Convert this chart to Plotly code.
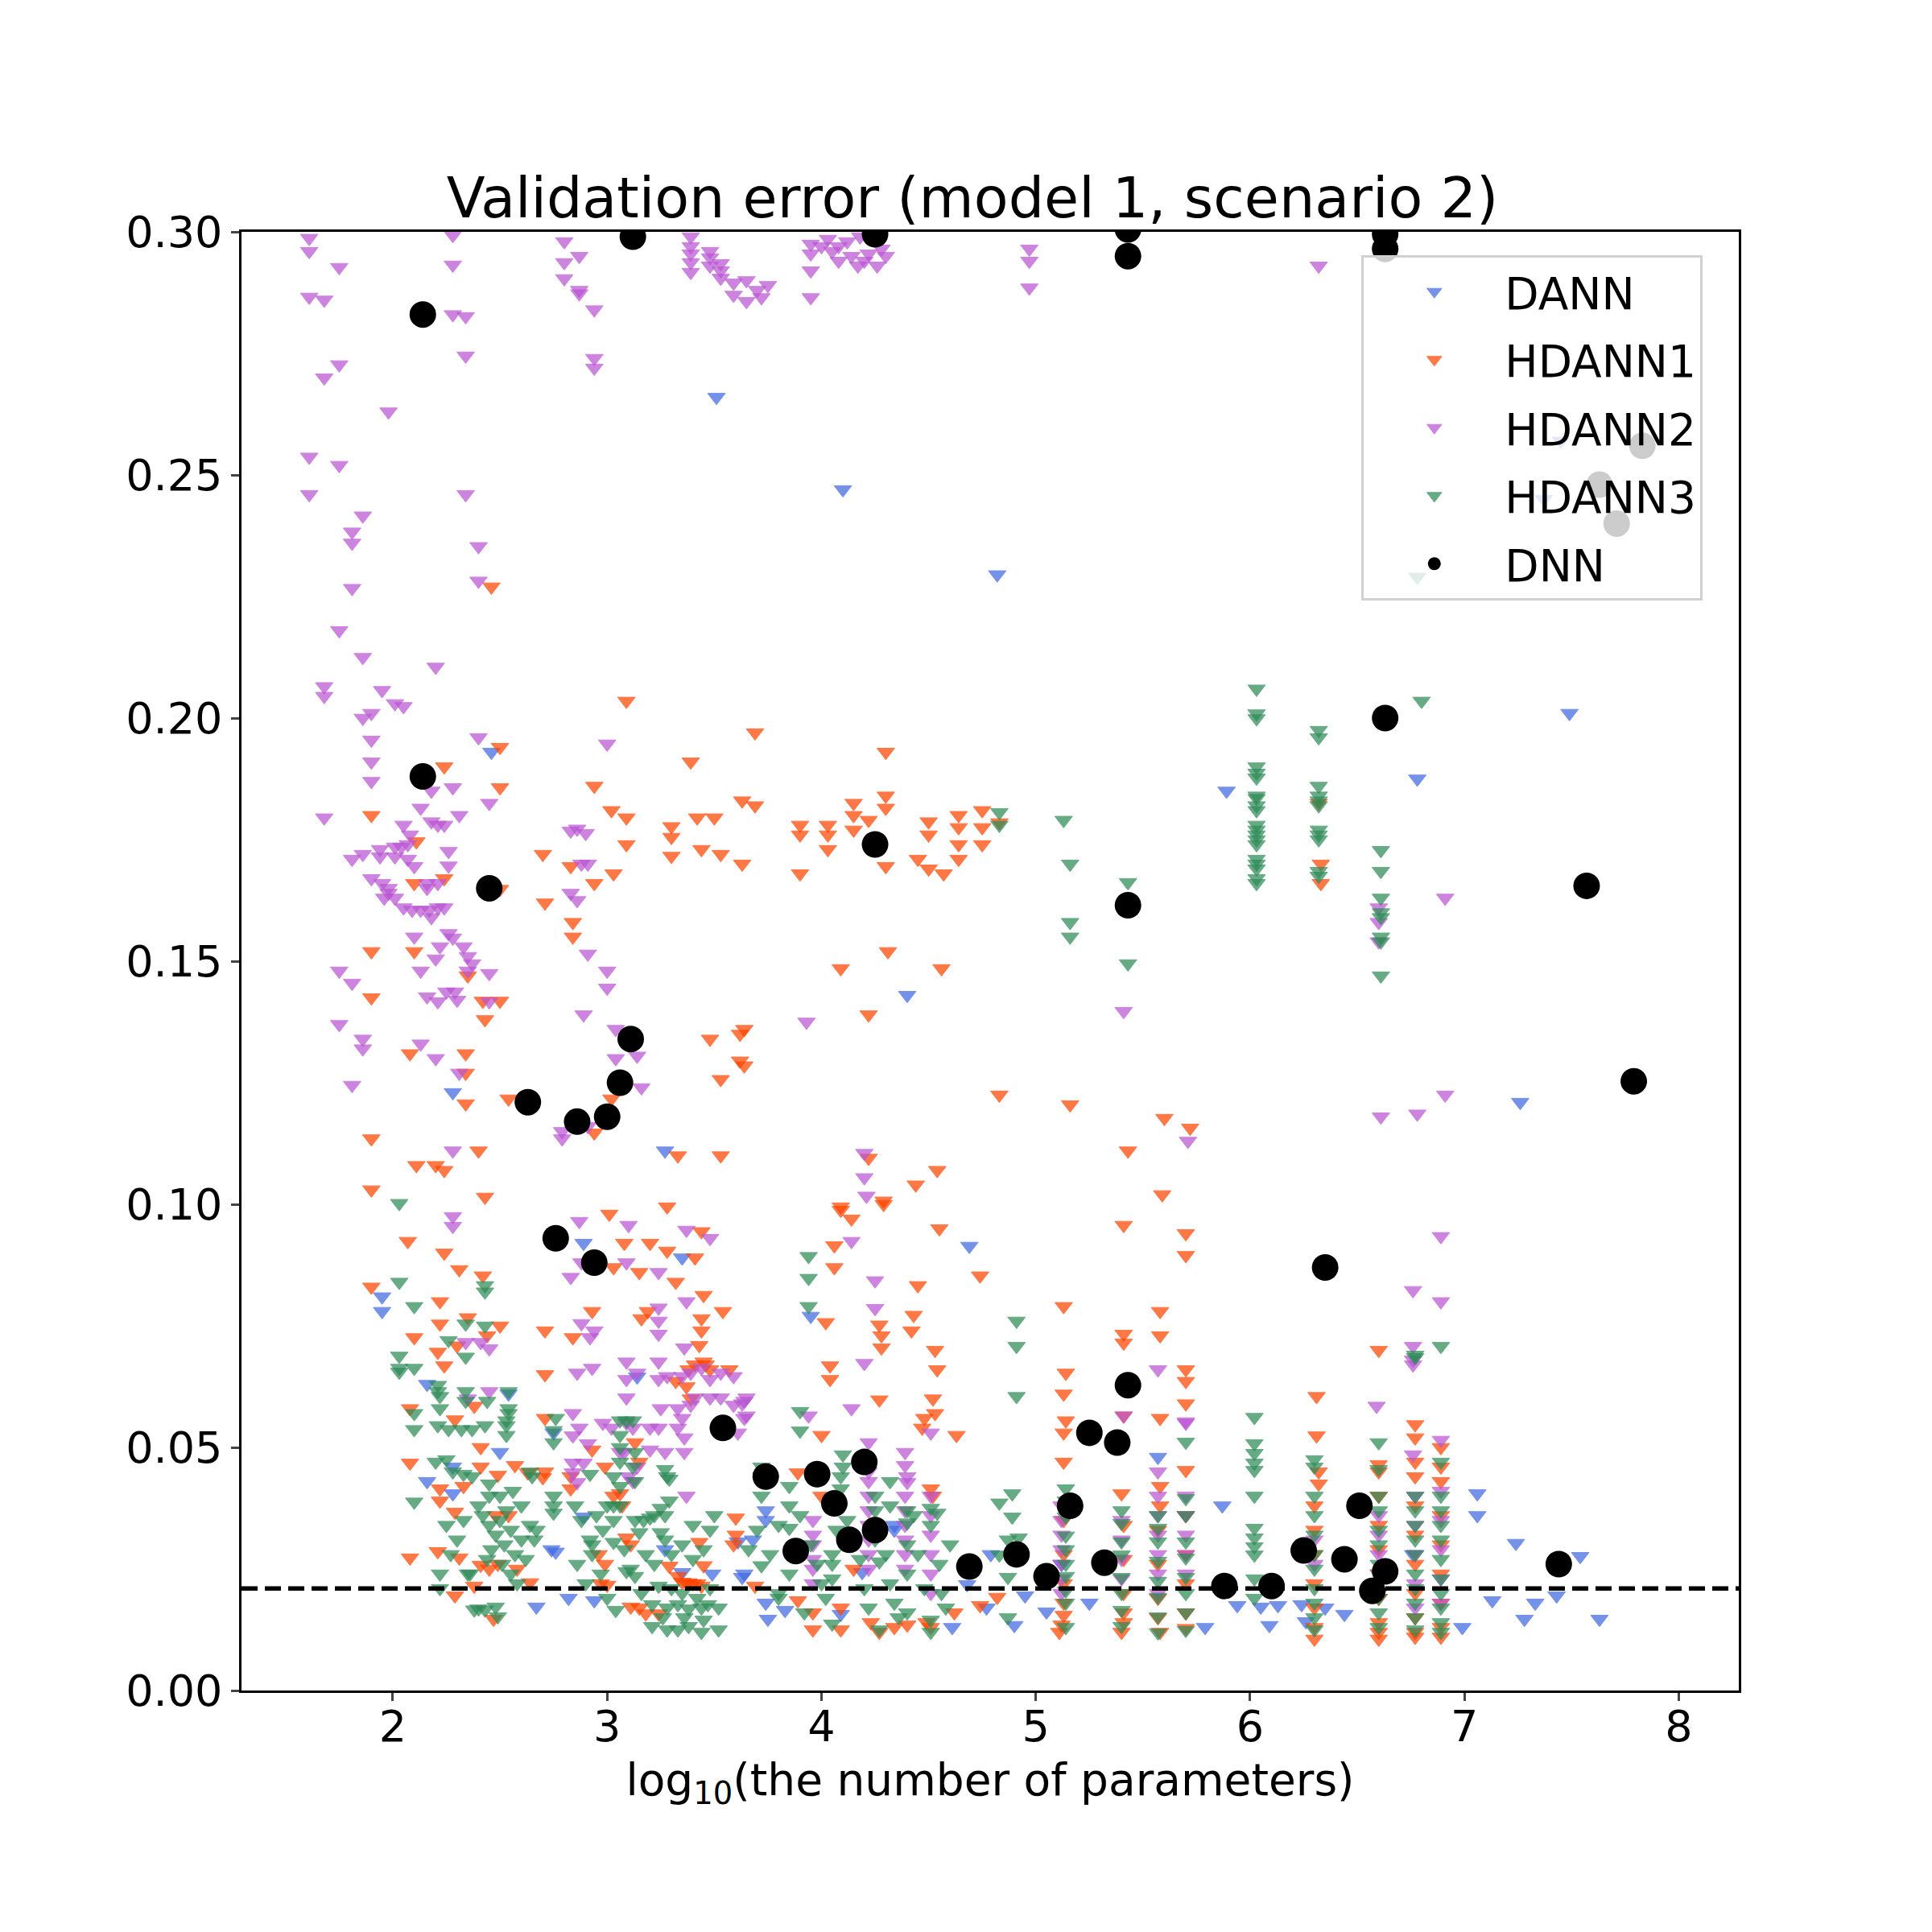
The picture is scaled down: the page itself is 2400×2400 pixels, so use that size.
import plotly.graph_objects as go

# values
# x = log10(number of parameters), y = validation error

dnn_pts = [(2.14, 0.283), (2.14, 0.188), (2.45, 0.165), (2.63, 0.121), (2.86, 0.117), (3.00, 0.118),
           (3.06, 0.125), (3.11, 0.134), (3.12, 0.299), (2.76, 0.093), (2.94, 0.088), (3.54, 0.054),
           (3.74, 0.044), (3.98, 0.0445), (3.88, 0.0287), (4.06, 0.0385), (4.13, 0.031), (4.20, 0.047),
           (4.25, 0.033), (4.25, 0.174), (4.25, 0.2995), (4.69, 0.0255), (4.91, 0.028), (5.05, 0.0235),
           (5.16, 0.038), (5.25, 0.053), (5.32, 0.0263), (5.38, 0.051), (5.43, 0.0628), (5.43, 0.1615),
           (5.43, 0.295), (5.43, 0.3005), (5.88, 0.0215), (6.10, 0.0215), (6.25, 0.0288), (6.35, 0.087),
           (6.44, 0.027), (6.51, 0.038), (6.57, 0.0205), (6.63, 0.0245), (6.63, 0.200), (6.63, 0.2965),
           (6.63, 0.2995), (7.44, 0.026), (7.57, 0.1655), (7.83, 0.256), (7.63, 0.248), (7.71, 0.240),
           (7.79, 0.1253)]

dann_pts = [(3.51, 0.266), (4.10, 0.247), (4.82, 0.2295), (7.49, 0.201), (5.89, 0.185), (6.78, 0.1875),
            (4.40, 0.143), (2.46, 0.193), (2.28, 0.123), (7.26, 0.121), (3.27, 0.111), (4.69, 0.0914),
            (1.95, 0.081), (1.95, 0.078), (3.95, 0.077), (2.89, 0.092), (7.45, 0.257), (7.37, 0.245),
            (7.06, 0.0405), (7.06, 0.036), (7.24, 0.0303), (7.54, 0.0276), (7.43, 0.0195), (7.33, 0.018),
            (7.28, 0.0147), (7.63, 0.0147), (7.13, 0.0185), (6.99, 0.013), (6.44, 0.0157), (5.94, 0.0175),
            (6.05, 0.0172), (6.13, 0.0175), (6.09, 0.0134), (6.24, 0.0177), (6.26, 0.0142), (6.35, 0.017),
            (3.74, 0.037), (3.74, 0.035), (3.68, 0.031), (3.64, 0.024), (3.74, 0.018), (3.75, 0.0147),
            (3.83, 0.0165), (4.09, 0.0157), (4.34, 0.034), (4.34, 0.033), (4.19, 0.0243), (4.61, 0.013),
            (4.68, 0.0218), (4.77, 0.017), (4.79, 0.028), (4.90, 0.0134), (4.95, 0.0195), (5.05, 0.0162),
            (5.25, 0.018), (5.57, 0.048), (5.79, 0.013), (5.87, 0.038), (2.16, 0.063), (2.16, 0.043),
            (2.28, 0.046), (2.28, 0.0405), (2.54, 0.061), (2.50, 0.049), (2.75, 0.053), (2.74, 0.029),
            (2.76, 0.0285), (2.67, 0.0172), (2.82, 0.019), (2.94, 0.0185), (2.89, 0.0357), (3.14, 0.0645),
            (3.35, 0.089), (3.27, 0.029), (3.49, 0.024), (3.63, 0.0233), (3.61, 0.0306), (3.35, 0.0243),
            (6.76, 0.028), (5.12, 0.026)]

hdann1_pts = [(2.46, 0.227), (3.09, 0.2035), (3.69, 0.197), (4.30, 0.193), (2.50, 0.194), (2.24, 0.190),
              (2.50, 0.1857), (3.39, 0.191), (2.94, 0.186), (1.90, 0.180), (3.02, 0.181), (3.09, 0.1795),
              (3.30, 0.1777), (3.30, 0.1755), (3.42, 0.1795), (3.50, 0.1795), (3.63, 0.183), (3.09, 0.174),
              (3.30, 0.1716), (3.44, 0.173), (3.53, 0.172), (3.63, 0.170), (2.11, 0.1746), (2.70, 0.172),
              (2.83, 0.1695), (3.03, 0.168), (2.94, 0.166), (2.24, 0.167), (2.10, 0.166), (2.50, 0.1648),
              (2.71, 0.162), (2.84, 0.158), (2.84, 0.155), (1.90, 0.152), (2.10, 0.152), (2.35, 0.147),
              (1.90, 0.1425), (2.42, 0.1418), (2.50, 0.1418), (2.43, 0.138), (2.08, 0.131), (2.34, 0.131),
              (2.34, 0.127), (2.34, 0.1207), (2.54, 0.1217), (3.02, 0.1217), (3.48, 0.134), (3.62, 0.135),
              (3.62, 0.1295), (3.53, 0.1257), (1.90, 0.1135), (2.40, 0.111), (2.11, 0.108), (2.20, 0.108),
              (2.24, 0.107), (1.90, 0.103), (2.43, 0.1015), (3.33, 0.110), (3.53, 0.110), (3.28, 0.0995),
              (3.01, 0.098), (2.94, 0.1147),
              (3.69, 0.182), (4.30, 0.184), (4.30, 0.1815), (4.15, 0.1825), (4.15, 0.180), (3.90, 0.178),
              (3.90, 0.176), (4.03, 0.178), (4.03, 0.176), (4.15, 0.177), (4.22, 0.179), (4.03, 0.173),
              (3.90, 0.168), (4.30, 0.1695), (4.45, 0.171), (4.50, 0.169), (4.57, 0.168), (4.50, 0.1787),
              (4.50, 0.176), (4.64, 0.180), (4.64, 0.1775), (4.64, 0.174), (4.64, 0.171), (4.75, 0.181),
              (4.75, 0.1775), (4.75, 0.174), (4.83, 0.1785), (6.33, 0.170), (6.33, 0.166), (6.32, 0.1825),
              (4.31, 0.152), (4.09, 0.1485), (4.56, 0.1485), (4.22, 0.139), (4.83, 0.1225), (5.16, 0.1205),
              (5.60, 0.1177), (5.72, 0.1157), (5.43, 0.111), (4.22, 0.1095), (4.54, 0.107), (4.44, 0.104),
              (4.29, 0.1007), (4.09, 0.0995), (5.59, 0.102), (3.64, 0.136), (3.64, 0.1285),
              (2.07, 0.0924), (2.24, 0.090), (2.31, 0.0866), (2.42, 0.0853), (1.90, 0.083), (2.22, 0.080),
              (2.10, 0.0726), (2.21, 0.0696), (2.24, 0.0668), (2.22, 0.0754), (2.35, 0.0767), (2.50, 0.075),
              (2.30, 0.0709), (2.44, 0.073), (2.08, 0.058), (2.29, 0.0557), (2.38, 0.0585), (2.08, 0.0468),
              (2.22, 0.0415), (2.22, 0.039), (2.33, 0.042), (2.41, 0.046), (2.41, 0.050), (2.49, 0.0443),
              (2.57, 0.0463), (2.63, 0.0448), (2.70, 0.0438), (2.29, 0.0367), (2.48, 0.036), (2.54, 0.036),
              (2.08, 0.0273), (2.21, 0.0286), (2.31, 0.0273), (2.41, 0.0258), (2.45, 0.025), (2.49, 0.026),
              (2.58, 0.025), (2.64, 0.0222), (2.29, 0.0195), (2.47, 0.0147), (2.38, 0.0215),
              (2.71, 0.074), (2.71, 0.065), (2.71, 0.056), (2.71, 0.045), (2.84, 0.0726), (2.93, 0.078),
              (3.08, 0.092), (3.20, 0.092), (3.28, 0.0904), (3.41, 0.089), (3.44, 0.0944), (3.03, 0.087),
              (3.15, 0.086), (3.32, 0.084), (3.45, 0.0813), (3.54, 0.078), (3.19, 0.078), (3.16, 0.0765),
              (3.44, 0.0765), (3.44, 0.074), (3.43, 0.071), (3.45, 0.0676), (3.46, 0.067), (3.48, 0.066),
              (3.38, 0.066), (3.41, 0.067), (3.37, 0.0625), (3.39, 0.060), (3.57, 0.066),
              (3.29, 0.0256), (3.33, 0.0235), (3.35, 0.0223), (3.37, 0.022), (3.38, 0.0222), (3.40, 0.022),
              (3.42, 0.022), (3.44, 0.0215), (3.11, 0.0172), (3.15, 0.017), (3.18, 0.0158), (3.24, 0.0158),
              (3.45, 0.0257), (2.99, 0.026), (3.00, 0.0217), (2.97, 0.022), (2.96, 0.028), (3.09, 0.0314),
              (3.11, 0.030), (2.83, 0.0415), (2.83, 0.044), (2.93, 0.0495), (2.99, 0.046), (3.03, 0.040),
              (3.06, 0.0405), (3.07, 0.038), (3.13, 0.051), (3.15, 0.047), (3.32, 0.0636), (3.43, 0.0305),
              (3.59, 0.030), (3.60, 0.0355), (3.60, 0.032),
              (4.09, 0.0988), (4.14, 0.097), (4.06, 0.0915), (4.06, 0.087), (4.29, 0.100), (4.55, 0.095),
              (4.74, 0.0853), (4.45, 0.0833), (4.02, 0.0757), (4.27, 0.0752), (4.28, 0.073), (4.28, 0.0705),
              (4.43, 0.0772), (4.42, 0.074), (4.53, 0.070), (4.54, 0.066), (4.04, 0.0668), (4.04, 0.064),
              (4.27, 0.0598), (4.52, 0.060), (4.53, 0.057), (4.48, 0.056), (4.47, 0.054), (4.00, 0.0525),
              (4.63, 0.0525), (5.13, 0.079), (5.41, 0.0957), (5.70, 0.094), (5.70, 0.0895), (5.58, 0.078),
              (5.41, 0.0733), (5.41, 0.0715), (5.58, 0.073), (5.70, 0.066), (5.70, 0.0636), (5.14, 0.0653),
              (5.13, 0.061), (5.14, 0.0555), (5.13, 0.053), (5.58, 0.056), (5.70, 0.059), (5.41, 0.0565),
              (3.89, 0.0448), (4.00, 0.040), (5.40, 0.0405), (5.58, 0.042), (5.58, 0.038), (5.70, 0.0453),
              (3.69, 0.0215), (3.89, 0.0185), (3.96, 0.016), (4.09, 0.017), (4.15, 0.025), (4.62, 0.016),
              (4.82, 0.0192), (4.74, 0.0175), (4.23, 0.014), (4.34, 0.013), (4.49, 0.014), (5.11, 0.012),
              (5.12, 0.0135), (5.40, 0.012), (5.58, 0.012), (5.70, 0.0128), (4.51, 0.0415), (4.52, 0.040),
              (6.60, 0.070), (6.31, 0.0605), (6.31, 0.0524), (6.77, 0.0547), (6.77, 0.052), (6.77, 0.047),
              (6.89, 0.050), (6.89, 0.046), (6.60, 0.0465), (6.60, 0.045), (6.32, 0.045), (6.32, 0.0425),
              (6.30, 0.0106), (6.60, 0.0106), (6.77, 0.011), (6.89, 0.011), (4.09, 0.0125), (4.27, 0.012),
              (4.40, 0.0135), (4.51, 0.013), (3.96, 0.0125)]

hdann1_cols = [(5.13, [0.047, 0.035, 0.028, 0.022, 0.018, 0.0155]),
               (5.41, [0.034, 0.027, 0.020, 0.016, 0.014]),
               (5.57, [0.033, 0.026, 0.019, 0.015]),
               (5.70, [0.036, 0.028, 0.022, 0.016]),
               (6.30, [0.038, 0.033, 0.028, 0.022, 0.017, 0.013]),
               (6.60, [0.040, 0.034, 0.029, 0.024, 0.019, 0.014, 0.012]),
               (6.77, [0.044, 0.038, 0.032, 0.026, 0.020, 0.015, 0.012]),
               (6.89, [0.043, 0.036, 0.030, 0.024, 0.018, 0.013])]

hdann2_pts = [(1.61, 0.2987), (1.61, 0.296), (1.61, 0.2866), (1.75, 0.2927), (1.68, 0.286), (1.75, 0.2727),
              (1.68, 0.270), (1.98, 0.263), (2.28, 0.2993), (2.28, 0.2932), (2.28, 0.283), (2.34, 0.2826),
              (2.34, 0.2745), (1.61, 0.2537), (1.61, 0.246), (1.75, 0.252), (2.34, 0.246), (1.86, 0.2416),
              (1.81, 0.2383), (1.81, 0.236), (2.40, 0.2353), (1.81, 0.2267), (2.40, 0.2282), (1.75, 0.218),
              (1.86, 0.2125), (2.20, 0.2105), (1.68, 0.2065), (1.68, 0.2045), (1.95, 0.2057), (2.01, 0.203),
              (2.05, 0.2024), (1.86, 0.200), (1.90, 0.201),
              (2.80, 0.298), (2.80, 0.2937), (2.80, 0.2904), (2.87, 0.295), (2.87, 0.288), (2.87, 0.2873),
              (2.94, 0.284), (2.94, 0.274), (2.94, 0.272),
              (3.39, 0.299), (3.39, 0.297), (3.39, 0.2955), (3.39, 0.2937), (3.39, 0.2917), (3.48, 0.296),
              (3.48, 0.2947), (3.48, 0.293), (3.53, 0.2935), (3.53, 0.292), (3.53, 0.2905), (3.59, 0.2895),
              (3.59, 0.287), (3.65, 0.290), (3.65, 0.2857), (3.70, 0.288), (3.72, 0.2865), (3.75, 0.289),
              (3.95, 0.2975), (3.95, 0.2955), (3.95, 0.292), (3.95, 0.2865), (4.00, 0.297), (4.05, 0.296),
              (4.08, 0.297), (4.08, 0.294), (4.14, 0.295), (4.17, 0.293), (4.20, 0.294), (4.22, 0.2955),
              (4.26, 0.293), (4.28, 0.2965), (4.30, 0.295), (4.12, 0.298), (4.03, 0.2985), (4.18, 0.299),
              (4.97, 0.2965), (4.97, 0.294), (4.97, 0.2885), (6.32, 0.293),
              (6.91, 0.163), (6.60, 0.161), (6.60, 0.158), (6.60, 0.154), (5.41, 0.1397), (3.93, 0.1375),
              (6.61, 0.118), (6.78, 0.1186), (6.91, 0.1225), (5.71, 0.113), (4.20, 0.1105), (4.20, 0.1055),
              (4.21, 0.1017),
              (1.90, 0.1955), (1.90, 0.191), (1.90, 0.187), (2.40, 0.196), (3.00, 0.1947), (2.18, 0.185),
              (2.28, 0.1857), (2.45, 0.1825), (1.68, 0.1795), (2.13, 0.1815), (2.31, 0.180), (2.05, 0.178),
              (2.18, 0.1787), (2.21, 0.178), (2.24, 0.178), (2.08, 0.176), (2.83, 0.1768), (2.86, 0.1772),
              (2.90, 0.1763), (2.01, 0.1735), (2.04, 0.1735), (2.07, 0.174), (1.81, 0.171), (1.86, 0.172),
              (1.94, 0.173), (1.94, 0.1715), (2.01, 0.1715), (2.07, 0.171), (2.10, 0.1695), (2.26, 0.1726),
              (2.26, 0.1696), (1.90, 0.167), (1.95, 0.166), (1.98, 0.165), (1.98, 0.164), (1.96, 0.163),
              (2.01, 0.163), (2.05, 0.161), (2.09, 0.1605), (2.13, 0.1605), (2.17, 0.1605), (2.21, 0.161),
              (2.24, 0.161), (2.18, 0.159), (2.16, 0.166), (2.16, 0.165), (2.21, 0.166), (2.83, 0.164),
              (2.86, 0.1625), (2.88, 0.170), (2.91, 0.170), (2.10, 0.155), (2.26, 0.1557), (2.28, 0.1548),
              (2.22, 0.153), (2.20, 0.1505), (2.33, 0.153), (2.35, 0.151), (2.37, 0.1495), (2.35, 0.148),
              (1.75, 0.148), (1.81, 0.1455), (2.13, 0.148), (2.45, 0.1475), (3.00, 0.148), (3.00, 0.1445),
              (2.91, 0.1515), (2.16, 0.1427), (2.21, 0.1417), (2.25, 0.1437), (2.29, 0.1437), (2.30, 0.142),
              (2.45, 0.1417), (2.89, 0.139), (1.75, 0.137), (1.86, 0.134), (1.86, 0.132), (2.13, 0.133),
              (2.20, 0.130), (2.31, 0.127), (1.81, 0.1245), (3.04, 0.136), (3.04, 0.130), (3.14, 0.1305),
              (3.16, 0.124), (2.79, 0.115), (2.79, 0.1135), (2.91, 0.116), (2.28, 0.111), (2.28, 0.0975),
              (2.28, 0.0955), (2.87, 0.0965), (3.10, 0.0957), (3.37, 0.0947),
              (3.48, 0.093), (2.88, 0.088), (2.83, 0.085), (3.09, 0.088), (3.24, 0.086), (3.37, 0.080),
              (2.88, 0.0755), (2.94, 0.074), (2.92, 0.0726), (3.24, 0.0787), (3.24, 0.076), (3.24, 0.0733),
              (2.34, 0.0716), (2.41, 0.0716), (2.45, 0.0703), (3.36, 0.0705), (2.35, 0.060), (2.45, 0.0615),
              (2.86, 0.0653), (2.93, 0.0663), (3.09, 0.0676), (3.09, 0.064), (3.14, 0.0653), (3.24, 0.0676),
              (3.24, 0.064), (3.28, 0.0646), (3.35, 0.0646), (3.39, 0.0653), (3.44, 0.0663), (3.48, 0.064),
              (3.53, 0.0653), (3.59, 0.0646), (3.65, 0.0602), (3.59, 0.0587), (3.53, 0.0602), (3.48, 0.0602),
              (3.41, 0.0602), (3.39, 0.0587), (3.25, 0.058), (3.09, 0.0602),
              (2.84, 0.057), (2.87, 0.054), (2.84, 0.0524), (2.91, 0.0508), (2.84, 0.0468), (2.84, 0.0448),
              (2.89, 0.0468), (2.86, 0.0428),
              (2.98, 0.055), (3.02, 0.054), (3.09, 0.055), (3.12, 0.054), (3.20, 0.054), (3.24, 0.054),
              (3.33, 0.054), (3.35, 0.056), (3.33, 0.058), (3.36, 0.052), (3.36, 0.049), (3.27, 0.049),
              (3.20, 0.0495), (3.08, 0.049), (3.06, 0.049), (3.10, 0.044), (3.12, 0.043), (3.14, 0.046),
              (3.63, 0.059), (3.65, 0.0565), (3.61, 0.053), (3.37, 0.040),
              (3.64, 0.0595), (3.64, 0.056), (4.14, 0.0924), (4.25, 0.0843), (4.20, 0.0673), (4.14, 0.058),
              (3.94, 0.0565), (4.25, 0.0786), (4.51, 0.053), (4.39, 0.049), (4.39, 0.0463), (4.40, 0.044),
              (4.40, 0.0428), (4.22, 0.051), (4.22, 0.045), (5.41, 0.0565), (5.57, 0.066), (5.70, 0.0553),
              (6.89, 0.0934), (6.76, 0.0823), (6.89, 0.080), (6.76, 0.0708), (6.76, 0.068), (6.76, 0.067),
              (6.59, 0.0585), (6.76, 0.0485), (6.89, 0.0515)]

hdann2_cols = [(3.96, [0.035, 0.032, 0.030, 0.027, 0.025, 0.022]),
               (4.22, [0.043, 0.040, 0.037, 0.034, 0.031, 0.028, 0.025]),
               (4.39, [0.040, 0.037, 0.034, 0.031, 0.028, 0.025]),
               (4.51, [0.040, 0.036, 0.032, 0.028, 0.024, 0.020]),
               (5.12, [0.038, 0.035, 0.032, 0.029, 0.026, 0.023, 0.020]),
               (5.40, [0.035, 0.031, 0.027, 0.023]),
               (5.57, [0.045, 0.040, 0.036, 0.032, 0.028, 0.024, 0.020]),
               (5.70, [0.055, 0.040, 0.036, 0.032, 0.028, 0.024]),
               (6.30, [0.031, 0.026]),
               (6.60, [0.036, 0.032, 0.028, 0.024, 0.020]),
               (6.77, [0.040, 0.034, 0.028, 0.022, 0.017]),
               (6.89, [0.041, 0.035, 0.029, 0.023, 0.018])]

hdann3_pts = [(6.80, 0.2035), (6.78, 0.229), (5.13, 0.179), (5.16, 0.170), (4.83, 0.1806), (4.83, 0.178),
              (5.43, 0.1662), (5.16, 0.158), (5.16, 0.155), (5.43, 0.1495),
              (2.03, 0.1002), (2.03, 0.084), (2.43, 0.0833), (2.43, 0.082), (2.10, 0.079), (2.34, 0.0754),
              (2.43, 0.075), (2.26, 0.072), (2.34, 0.0686), (2.03, 0.0688), (2.03, 0.0663), (2.03, 0.0655),
              (2.10, 0.0663), (2.21, 0.0628), (2.21, 0.0615), (2.22, 0.0605), (2.22, 0.058), (2.34, 0.0615),
              (2.34, 0.0595), (2.44, 0.0595), (2.54, 0.0615), (2.54, 0.058), (2.54, 0.057), (2.53, 0.0555),
              (2.53, 0.0545), (2.53, 0.0525), (2.10, 0.057), (2.10, 0.0537), (2.21, 0.0545), (2.26, 0.0537),
              (2.32, 0.0537), (2.37, 0.0537), (2.43, 0.0545),
              (2.20, 0.047), (2.25, 0.0475), (2.28, 0.045), (2.33, 0.0445), (2.37, 0.044), (2.45, 0.0425),
              (2.45, 0.040), (2.10, 0.0388), (2.64, 0.045), (2.65, 0.044), (2.64, 0.034), (2.67, 0.033),
              (2.66, 0.031), (2.22, 0.024), (2.22, 0.021), (2.35, 0.024), (2.36, 0.024), (2.38, 0.0166),
              (2.40, 0.0168), (2.43, 0.0166), (2.48, 0.0172), (2.49, 0.0152),
              (2.40, 0.038), (2.42, 0.036), (2.45, 0.034), (2.48, 0.032), (2.50, 0.035), (2.52, 0.030),
              (2.55, 0.033), (2.57, 0.028), (2.60, 0.031), (2.46, 0.029), (2.44, 0.027), (2.51, 0.026),
              (2.55, 0.024), (2.58, 0.022), (2.62, 0.027), (2.30, 0.031), (2.27, 0.028), (2.33, 0.035),
              (2.25, 0.034), (2.60, 0.038), (2.56, 0.041), (2.50, 0.040), (2.53, 0.037),
              (2.76, 0.056), (2.75, 0.0535), (2.75, 0.051), (2.75, 0.040), (2.75, 0.038), (2.75, 0.0365),
              (2.92, 0.0445), (2.92, 0.031), (2.93, 0.030), (2.93, 0.028), (3.04, 0.0165), (3.06, 0.0555),
              (3.06, 0.0525), (3.06, 0.050), (3.06, 0.047), (3.06, 0.042), (3.06, 0.038), (3.09, 0.0555),
              (3.12, 0.0555), (3.03, 0.044), (3.03, 0.038), (3.03, 0.035), (3.03, 0.0305), (3.13, 0.049),
              (3.12, 0.046), (3.13, 0.043), (3.27, 0.0455), (3.28, 0.044), (3.29, 0.0435), (3.13, 0.035),
              (3.15, 0.0325), (3.17, 0.035), (3.20, 0.0355), (3.22, 0.036), (3.25, 0.0375), (3.27, 0.036),
              (3.29, 0.039), (3.25, 0.0325), (3.27, 0.031),
              (3.21, 0.0132), (3.28, 0.0125), (3.33, 0.0125), (3.38, 0.0132), (3.44, 0.012), (3.52, 0.0125),
              (3.21, 0.0177), (3.28, 0.017), (3.33, 0.0177), (3.38, 0.0168), (3.44, 0.017), (3.47, 0.0177),
              (3.09, 0.0245), (3.11, 0.025), (3.13, 0.0235),
              (2.85, 0.038), (2.88, 0.035), (2.95, 0.036), (2.98, 0.033), (3.00, 0.038), (3.08, 0.029),
              (3.18, 0.028), (3.22, 0.026), (3.30, 0.028), (3.35, 0.030), (3.40, 0.027), (3.45, 0.029),
              (3.48, 0.033), (3.50, 0.036), (3.40, 0.034), (3.35, 0.020), (3.30, 0.021), (3.42, 0.019),
              (3.48, 0.021), (3.52, 0.017), (3.26, 0.015), (3.36, 0.015), (3.45, 0.0145), (2.90, 0.022),
              (2.97, 0.024), (3.00, 0.019), (2.86, 0.026), (3.16, 0.020), (3.24, 0.0215),
              (3.94, 0.0893), (3.94, 0.0848), (3.94, 0.079), (4.91, 0.076), (4.91, 0.0708), (4.91, 0.0605),
              (3.90, 0.0574), (3.90, 0.0534), (3.72, 0.046), (3.72, 0.044), (3.72, 0.040), (3.85, 0.042),
              (3.85, 0.038), (3.85, 0.0334), (3.85, 0.024), (3.80, 0.034), (3.72, 0.0257), (3.80, 0.020),
              (3.80, 0.019), (4.10, 0.0485), (4.10, 0.046), (4.09, 0.044), (4.09, 0.0415), (4.07, 0.033),
              (4.05, 0.028), (4.05, 0.026), (4.05, 0.023), (4.05, 0.0137), (4.32, 0.043), (4.32, 0.038),
              (4.25, 0.040), (4.25, 0.037), (4.27, 0.0265), (4.27, 0.0125), (4.40, 0.037), (4.40, 0.0345),
              (4.40, 0.030), (4.40, 0.024), (4.40, 0.016), (4.51, 0.0375), (4.51, 0.034), (4.51, 0.0145),
              (4.51, 0.012), (4.54, 0.0365), (4.43, 0.036),
              (4.83, 0.0386), (4.89, 0.0405), (4.89, 0.0357), (4.92, 0.0314), (4.87, 0.031), (4.83, 0.0279),
              (4.87, 0.0233), (4.87, 0.015),
              (3.95, 0.030), (3.98, 0.026), (4.00, 0.022), (4.02, 0.019), (4.12, 0.035), (4.15, 0.030),
              (4.18, 0.027), (4.20, 0.021), (4.22, 0.017), (4.25, 0.031), (4.30, 0.028), (4.32, 0.022),
              (4.34, 0.018), (4.36, 0.015), (4.45, 0.028), (4.48, 0.021), (4.55, 0.026), (4.56, 0.020),
              (4.58, 0.017), (4.60, 0.030), (3.70, 0.033), (3.76, 0.028), (3.66, 0.029), (3.90, 0.036),
              (3.92, 0.016)]

hdann3_cols = [(6.03, [0.206, 0.2009, 0.1999, 0.190, 0.1887, 0.1877, 0.184, 0.1835, 0.182, 0.181, 0.178,
                       0.177, 0.176, 0.175, 0.174, 0.171, 0.170, 0.169, 0.167, 0.166]),
               (6.32, [0.1975, 0.196, 0.186, 0.184, 0.183, 0.182, 0.177, 0.176, 0.175, 0.1685, 0.1675]),
               (6.61, [0.1728, 0.1685, 0.163, 0.160, 0.159, 0.155, 0.154, 0.147]),
               (5.14, [0.0415, 0.039, 0.0357, 0.0318, 0.029, 0.026, 0.0235, 0.0205, 0.018, 0.013]),
               (5.40, [0.037, 0.0344, 0.0306, 0.0279, 0.0233, 0.020, 0.0165, 0.0132]),
               (5.57, [0.036, 0.0334, 0.0306, 0.0266, 0.0225, 0.0192, 0.0152, 0.0119]),
               (5.70, [0.0511, 0.0395, 0.036, 0.0306, 0.0273, 0.0233, 0.020, 0.016, 0.0124]),
               (6.02, [0.0562, 0.0508, 0.0488, 0.0468, 0.0453, 0.040, 0.0334, 0.0314, 0.0296, 0.0279,
                       0.023, 0.019]),
               (6.30, [0.0475, 0.046, 0.040, 0.036, 0.032, 0.028, 0.025, 0.021, 0.018, 0.015, 0.0125]),
               (6.60, [0.051, 0.0455, 0.040, 0.037, 0.033, 0.030, 0.026, 0.022, 0.019, 0.016, 0.013]),
               (6.77, [0.069, 0.0685, 0.040, 0.037, 0.034, 0.031, 0.028, 0.024, 0.021, 0.018, 0.015,
                       0.0125]),
               (6.89, [0.0708, 0.047, 0.040, 0.037, 0.034, 0.031, 0.027, 0.023, 0.020, 0.017, 0.014,
                       0.012])]

best_error = 0.021  # dashed reference line

y_ticks = [0.0, 0.05, 0.10, 0.15, 0.20, 0.25, 0.30]
x_ticks = [2, 3, 4, 5, 6, 7, 8]


def unpack(pts, cols=()):
    xs = [p[0] for p in pts]
    ys = [p[1] for p in pts]
    for cx, cys in cols:
        xs += [cx] * len(cys)
        ys += list(cys)
    return xs, ys


series = [
    ('DANN', unpack(dann_pts), 'rgb(65,105,225)'),
    ('HDANN1', unpack(hdann1_pts, hdann1_cols), 'rgb(255,69,0)'),
    ('HDANN2', unpack(hdann2_pts, hdann2_cols), 'rgb(186,85,211)'),
    ('HDANN3', unpack(hdann3_pts, hdann3_cols), 'rgb(46,139,87)'),
]

fig = go.Figure()
for name, (xs, ys), col in series:
    fig.add_trace(go.Scatter(
        x=xs, y=ys, mode='markers', name=name, legendgroup=name,
        marker=dict(symbol='triangle-down', size=19, color=col, opacity=0.72,
                    line=dict(color=col, width=1)),
    ))

dx, dy = unpack(dnn_pts)
fig.add_trace(go.Scatter(
    x=dx, y=dy, mode='markers', name='DNN', legendgroup='DNN',
    marker=dict(symbol='circle', size=33, color='black'),
))

# dashed horizontal line
fig.add_shape(type='line', xref='paper', x0=0, x1=1, yref='y', y0=best_error, y1=best_error,
              line=dict(color='black', width=5.5, dash='20px,9px'), layer='above')

font = 'DejaVu Sans, Liberation Sans, sans-serif'
fig.update_layout(
    width=2400, height=2400,
    paper_bgcolor='white', plot_bgcolor='white',
    margin=dict(l=292, r=248, t=280, b=308),
    font=dict(family=font, size=54, color='black'),
    title=dict(text='Validation error (model 1, scenario 2)', x=0.5, xanchor='center',
               y=0.9012, yanchor='middle', yref='container', font=dict(size=70)),
    showlegend=True,
    legend=dict(x=0.748, y=0.984, xanchor='left', yanchor='top',
                bgcolor='rgba(255,255,255,0.8)', bordercolor='#d0d0d0', borderwidth=3,
                font=dict(size=55), itemsizing='trace', itemwidth=165, tracegroupgap=10),
)
fig.update_xaxes(range=[1.294, 8.28], tickvals=x_ticks, ticks='outside', ticklen=10, tickwidth=2.5,
                 ticklabelstandoff=-15,
                 showline=True, linewidth=2.5, linecolor='black', mirror=True,
                 showgrid=False, zeroline=False,
                 title=dict(text='log<sub>10</sub>(the number of parameters)', standoff=17,
                            font=dict(size=55)))
fig.update_yaxes(range=[0, 0.30], tickvals=y_ticks, tickformat='.2f', ticks='outside', ticklen=10,
                 tickwidth=2.5, showline=True, linewidth=2.5, linecolor='black', mirror=True,
                 showgrid=False, zeroline=False)

fig.write_html('out.html')
